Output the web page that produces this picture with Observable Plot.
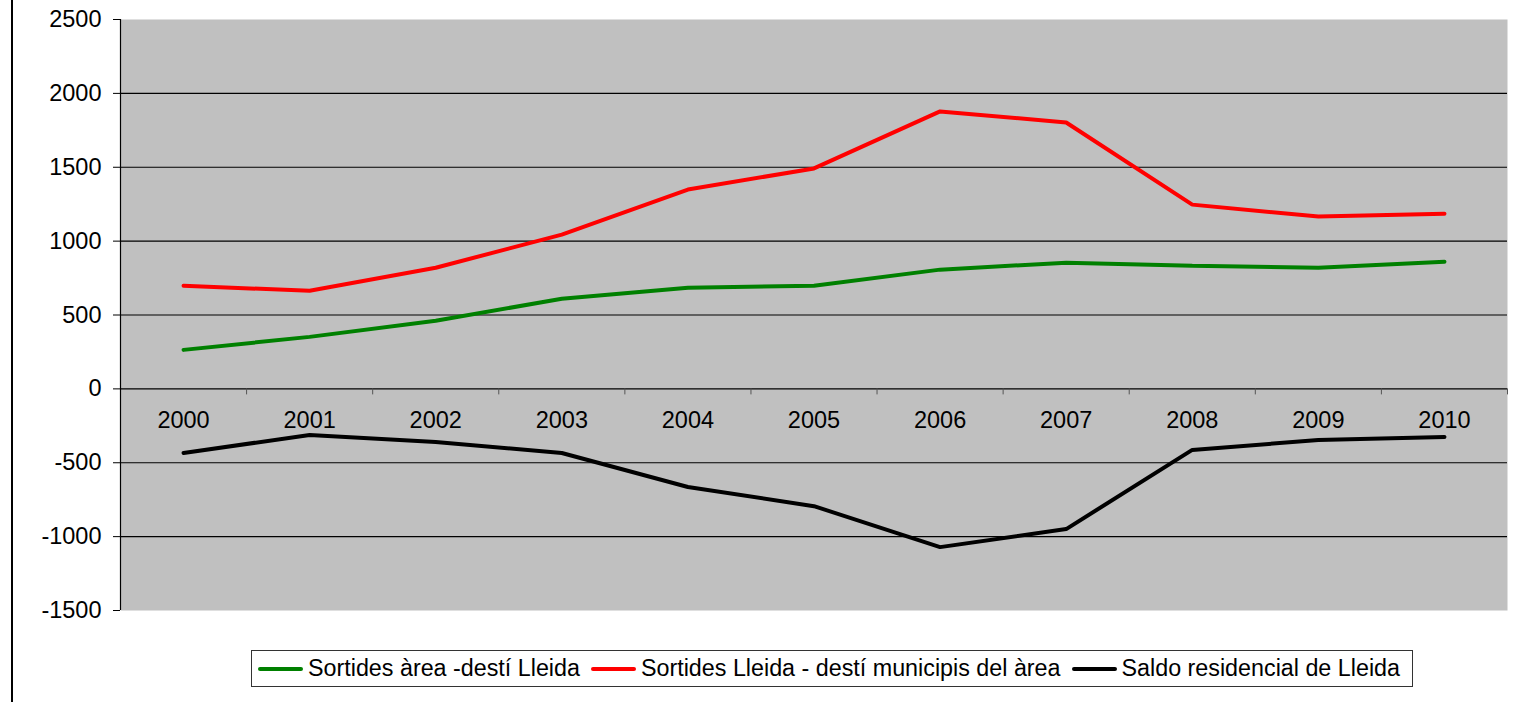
<!DOCTYPE html>
<html>
<head>
<meta charset="utf-8">
<script src="https://cdn.jsdelivr.net/npm/d3@7"></script>
<script src="https://cdn.jsdelivr.net/npm/@observablehq/plot@0.6"></script>
<style>
  html, body { margin: 0; padding: 0; background: #fff; width: 1531px; height: 702px; overflow: hidden; }
  body { position: relative; font-family: "Liberation Sans", Arial, sans-serif; }
  #page-line { position: absolute; left: 11px; top: 0; width: 2px; height: 702px; background: #000; }
  #chart { position: absolute; left: 0; top: 0; }
  #legend { position: absolute; left: 251px; top: 650px; width: 1162px; height: 37px; border: 1px solid #333;
            box-sizing: border-box; display: flex; align-items: center; font-size: 23.3px; color: #000; white-space: nowrap; padding-left: 6px; }
  .item { display: flex; align-items: center; margin-right: 11px; }
  .swatch { display: inline-block; width: 45px; height: 4px; border-radius: 2px; margin-right: 5px; }
</style>
</head>
<body>
<div id="page-line"></div>
<div id="chart"></div>
<div id="legend"></div>
<script>
const years = [2000, 2001, 2002, 2003, 2004, 2005, 2006, 2007, 2008, 2009, 2010];
const yearLabels = ["2000", "2001", "2002", "2003", "2004", "2005", "2006", "2007", "2008", "2009", "2010"];
const sortidesArea = [264, 352, 461, 610, 685, 698, 807, 854, 834, 820, 861];
const sortidesLleida = [698, 664, 820, 1044, 1349, 1492, 1878, 1803, 1247, 1166, 1186];
const saldo = [-434, -312, -359, -434, -664, -794, -1071, -949, -413, -346, -325];
const seriesNames = ["Sortides àrea -destí Lleida", "Sortides Lleida - destí municipis del àrea", "Saldo residencial de Lleida"];
const seriesColors = ["#008000", "#FF0000", "#000000"];
const yTicks = [-1500, -1000, -500, 0, 500, 1000, 1500, 2000, 2500];
const gridValues = [-1000, -500, 0, 500, 1000, 1500, 2000];

const allSeries = [sortidesArea, sortidesLleida, saldo];
const data = [];
allSeries.forEach((vals, s) => vals.forEach((v, i) => data.push({year: years[i], value: v, series: seriesNames[s]})));
const bounds = years.map(y => y - 0.5).concat([years[years.length - 1] + 0.5]);
const labels = years.map((y, i) => ({year: y, label: yearLabels[i]}));

const chart = Plot.plot({
  width: 1531,
  height: 640,
  marginLeft: 120,
  marginRight: 24,
  marginTop: 19,
  marginBottom: 30,
  style: {fontFamily: "'Liberation Sans', Arial, sans-serif", fontSize: "23.5px", background: "transparent"},
  x: {domain: [bounds[0], bounds[bounds.length - 1]], axis: null},
  y: {domain: [-1500, 2500], label: null},
  color: {domain: seriesNames, range: seriesColors},
  marks: [
    Plot.frame({fill: "#C0C0C0", stroke: null}),
    Plot.ruleY(gridValues, {stroke: "#000", strokeWidth: 1.2}),
    Plot.ruleX(bounds, {y1: 0, y2: 0, insetBottom: -6, stroke: "#555", strokeWidth: 1}),
    Plot.ruleX([bounds[0]], {stroke: "#000", strokeWidth: 1.2}),
    Plot.axisY({ticks: yTicks, label: null, tickSize: 7, tickPadding: 12, fontSize: 23.5, tickFormat: d => String(d), stroke: "#000", color: "#000"}),
    Plot.text(labels, {x: "year", y: () => 0, text: "label", dy: 32, fontSize: 23.5, fill: "#000"}),
    Plot.line(data, {x: "year", y: "value", z: "series", stroke: "series", strokeWidth: 4, strokeLinejoin: "miter", strokeLinecap: "round"})
  ]
});
document.getElementById("chart").appendChild(chart);

const legend = document.getElementById("legend");
seriesNames.forEach((name, i) => {
  const item = document.createElement("span");
  item.className = "item";
  const sw = document.createElement("span");
  sw.className = "swatch";
  sw.style.background = seriesColors[i];
  item.appendChild(sw);
  item.appendChild(document.createTextNode(name));
  legend.appendChild(item);
});
</script>
</body>
</html>
